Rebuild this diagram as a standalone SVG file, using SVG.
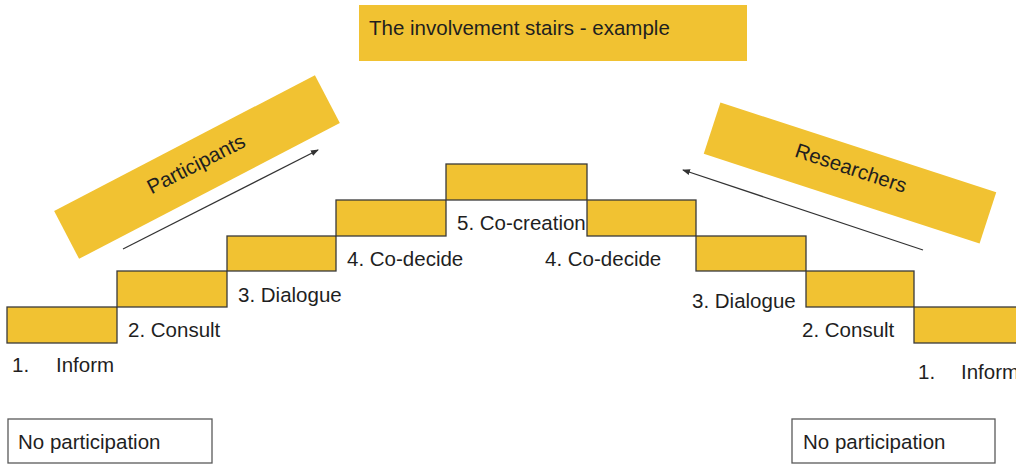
<svg xmlns="http://www.w3.org/2000/svg" width="1016" height="464" viewBox="0 0 1016 464">
<style>
  .step { fill: #F1C232; stroke: #3a3a3a; stroke-width: 1.3; }
  .band { fill: #F1C232; }
  .lbl { font-family: "Liberation Sans", Arial, sans-serif; font-size: 20.5px; fill: #1f1f1f; }
  .box { fill: #ffffff; stroke: #595959; stroke-width: 1.3; }
  .arrow { stroke: #333333; stroke-width: 1.2; fill: none; marker-end: url(#ah); }
</style>
<defs>
  <marker id="ah" markerWidth="8" markerHeight="8" refX="7" refY="4" orient="auto" markerUnits="userSpaceOnUse">
    <path d="M0,1 L8,4 L0,7 Z" fill="#333333"/>
  </marker>
</defs>
<rect width="1016" height="464" fill="#ffffff"/>

<g id="title">
  <rect class="band" x="359" y="5" width="388" height="56"/>
  <text class="lbl" x="369" y="35">The involvement stairs - example</text>
</g>

<g id="participants">
  <rect class="band" x="-147" y="-27" width="294" height="54" transform="translate(197,167) rotate(-27.5)"/>
  <text class="lbl" x="0" y="7" text-anchor="middle" transform="translate(196,164) rotate(-27)">Participants</text>
</g>

<g id="researchers">
  <rect class="band" x="-145" y="-27" width="290" height="54" transform="translate(850,173) rotate(18)"/>
  <text class="lbl" x="0" y="7" text-anchor="middle" transform="translate(851,168) rotate(18.5)">Researchers</text>
</g>

<g id="step-l1"><rect class="step" x="7" y="307" width="110" height="36"/></g>
<g id="step-l2"><rect class="step" x="117" y="271" width="110" height="36"/></g>
<g id="step-l3"><rect class="step" x="227" y="236" width="109" height="35"/></g>
<g id="step-l4"><rect class="step" x="336" y="200" width="110" height="36"/></g>
<g id="step-5"><rect class="step" x="446" y="164" width="141" height="36"/></g>
<g id="step-r4"><rect class="step" x="587" y="200" width="109" height="36"/></g>
<g id="step-r3"><rect class="step" x="696" y="236" width="110" height="35"/></g>
<g id="step-r2"><rect class="step" x="806" y="271" width="108" height="36"/></g>
<g id="step-r1"><rect class="step" x="914" y="307" width="110" height="36"/></g>

<g id="labels">
  <text class="lbl" x="12" y="372">1.</text>
  <text class="lbl" x="56" y="372">Inform</text>
  <text class="lbl" x="128" y="337">2. Consult</text>
  <text class="lbl" x="238" y="302">3. Dialogue</text>
  <text class="lbl" x="347" y="266">4. Co-decide</text>
  <text class="lbl" x="457" y="230">5. Co-creation</text>
  <text class="lbl" x="545" y="266">4. Co-decide</text>
  <text class="lbl" x="692" y="308">3. Dialogue</text>
  <text class="lbl" x="802" y="337">2. Consult</text>
  <text class="lbl" x="918" y="379">1.</text>
  <text class="lbl" x="961" y="379">Inform</text>
</g>

<g id="no-participation-left">
  <rect class="box" x="8" y="419" width="204" height="44"/>
  <text class="lbl" x="18" y="449">No participation</text>
</g>
<g id="no-participation-right">
  <rect class="box" x="792" y="419" width="203" height="44"/>
  <text class="lbl" x="803" y="449">No participation</text>
</g>

<g id="connectors">
  <line class="arrow" x1="123" y1="249" x2="318" y2="150"/>
  <line class="arrow" x1="923" y1="250" x2="683" y2="170"/>
</g>
</svg>
